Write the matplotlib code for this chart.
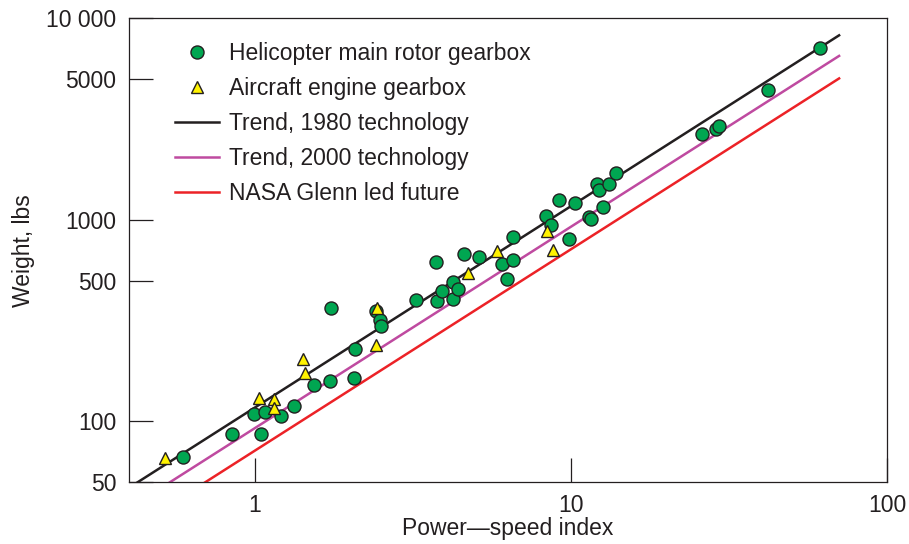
import matplotlib.pyplot as plt
from matplotlib.ticker import NullLocator

plt.rcParams['font.family'] = ['Liberation Sans', 'DejaVu Sans']

# Helicopter main rotor gearboxes: power-speed index vs weight (lbs)
heli_x = [0.593, 0.844, 1.050, 0.993, 1.076, 1.206, 1.329, 1.537, 1.736, 1.727,
          2.057, 2.072, 2.415, 2.487, 2.499, 3.232, 3.731, 3.775, 3.898, 4.241,
          4.223, 4.399, 4.596, 5.126, 6.036, 6.540, 6.288, 6.540, 8.335, 8.625,
          9.184, 9.876, 10.29, 11.43, 11.55, 12.60, 12.12, 12.29, 13.22, 13.88,
          25.92, 28.77, 29.47, 42.11, 61.38]
heli_y = [66.8, 86.6, 86.6, 108.4, 111.7, 106.3, 119.7, 151.6, 364, 158.7,
          163.6, 228.8, 354.4, 318.7, 297.6, 400.6, 620.6, 397.4, 444, 403.7,
          493.8, 452.7, 678, 657.4, 604.6, 633, 507.6, 826, 1046, 944,
          1256, 804.6, 1210, 1031, 1015, 1156, 1509, 1409, 1500, 1717,
          2664, 2819, 2938, 4436, 7102]

# Aircraft engine gearboxes
aero_x = [0.519, 1.032, 1.148, 1.148, 1.416, 1.440, 2.427, 2.410, 4.732, 5.820,
          8.378, 8.790]
aero_y = [65.6, 131.1, 129.1, 116.9, 204, 173.3, 364, 239.4, 547, 704,
          884.7, 709.5]

# trend lines (end points)
trend_x = [0.4, 70.5]
trend_1980 = [46.8, 8250]
trend_2000 = [37.0, 6520]
trend_nasa = [28.6, 5040]

ink = '#231f20'

fig = plt.figure(figsize=(9.09, 5.44), dpi=100)
ax = fig.add_axes([0.1419, 0.114, 0.834, 0.852])

l1, = ax.plot(trend_x, trend_1980, color=ink, lw=1.8, label='Trend, 1980 technology')
l2, = ax.plot(trend_x, trend_2000, color='#bf4aa0', lw=1.8, label='Trend, 2000 technology')
l3, = ax.plot(trend_x, trend_nasa, color='#ec2227', lw=1.8, label='NASA Glenn led future')
h1, = ax.plot(heli_x, heli_y, 'o', ms=9.4, mfc='#00a651', mec=ink, mew=1.0,
              label='Helicopter main rotor gearbox', zorder=3)
h2, = ax.plot(aero_x, aero_y, '^', ms=8.8, mfc='#fff200', mec=ink, mew=1.0,
              label='Aircraft engine gearbox', zorder=4)

ax.set_xscale('log')
ax.set_yscale('log')
ax.set_xlim(0.4, 100)
ax.set_ylim(50, 10000)

ax.set_xticks([1, 10, 100])
ax.set_xticklabels(['1', '10', '100'])
ax.set_yticks([50, 100, 500, 1000, 5000, 10000])
ax.set_yticklabels(['50', '100', '500', '1000', '5000', '10 000'])
ax.xaxis.set_minor_locator(NullLocator())
ax.yaxis.set_minor_locator(NullLocator())
ax.tick_params(direction='in', length=17, width=0.9, color=ink,
               labelcolor=ink, labelsize=16.5, pad=9)
for s in ax.spines.values():
    s.set_linewidth(0.9)
    s.set_color(ink)

ax.set_xlabel('Power\u2014speed index', fontsize=16.5, color=ink, labelpad=0)
ax.set_ylabel('Weight, lbs', fontsize=16.5, color=ink, labelpad=8)

ax.legend(handles=[h1, h2, l1, l2, l3], loc='upper left',
          bbox_to_anchor=(0.0607, 0.9495), frameon=False, fontsize=16.5,
          borderpad=0, borderaxespad=0, handlelength=1.92, handletextpad=0.44,
          labelspacing=0.52, numpoints=1, labelcolor=ink)

fig.savefig('out.png', dpi=100)
